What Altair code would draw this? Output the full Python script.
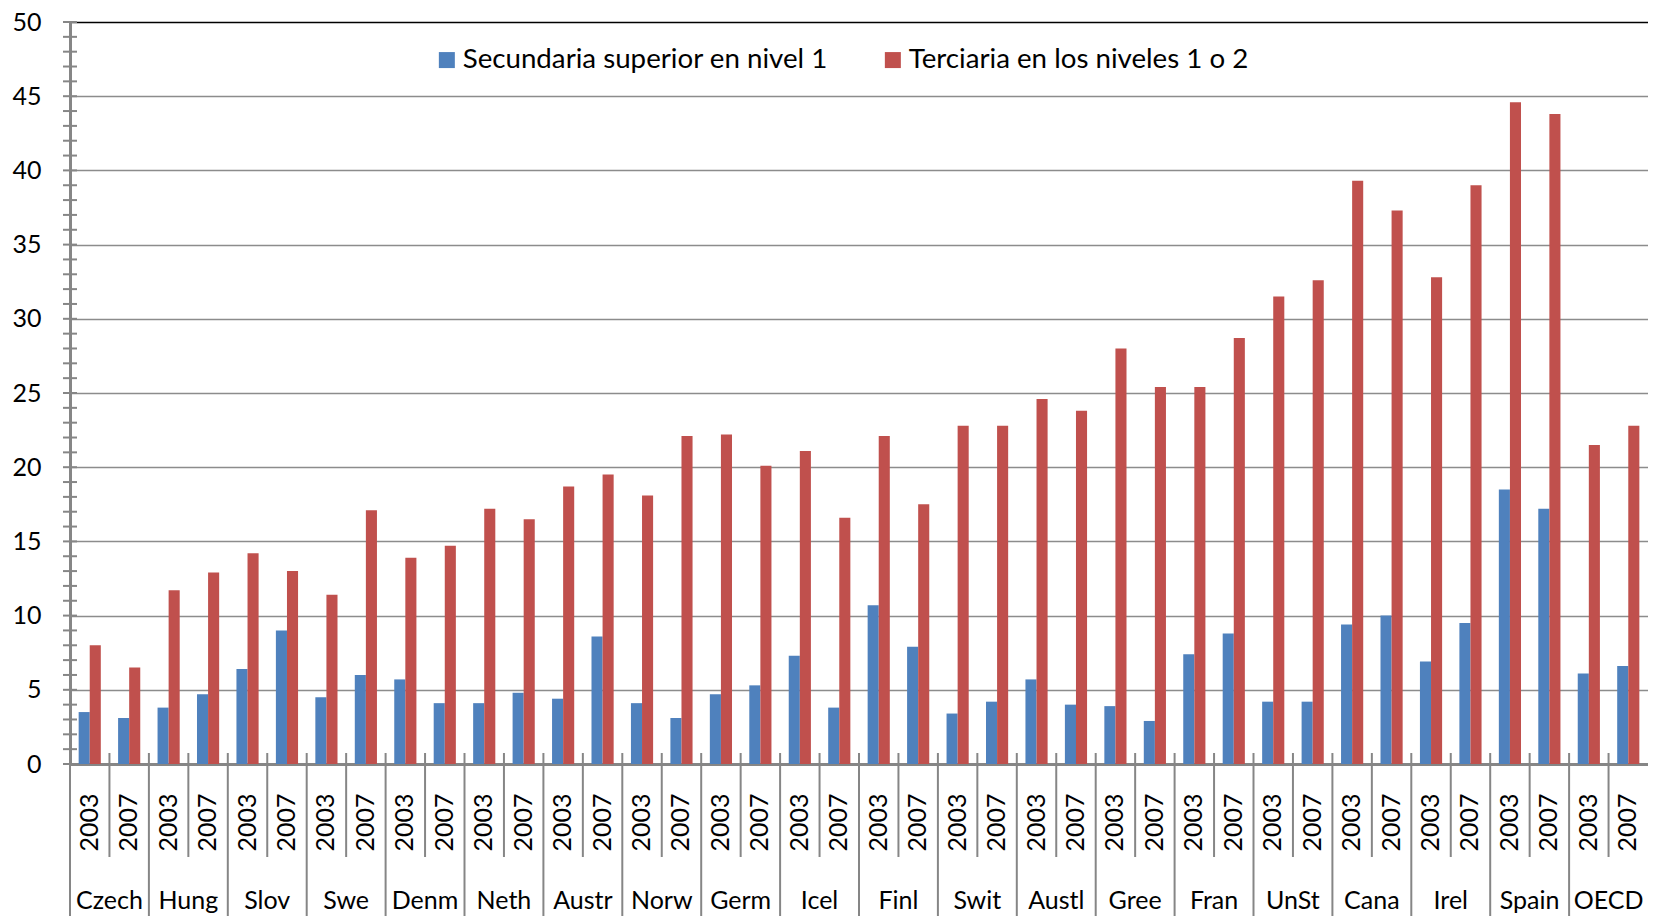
import altair as alt
import pandas as pd

countries = ["Czech", "Hung", "Slov", "Swe", "Denm", "Neth", "Austr", "Norw", "Germ", "Icel",
             "Finl", "Swit", "Austl", "Gree", "Fran", "UnSt", "Cana", "Irel", "Spain", "OECD"]
years = ["2003", "2007"]
series = ["Secundaria superior en nivel 1", "Terciaria en los niveles 1 o 2"]

# values per country, 2003 then 2007
secundaria = [3.5, 3.1, 3.8, 4.7, 6.4, 9.0, 4.5, 6.0, 5.7, 4.1,
              4.1, 4.8, 4.4, 8.6, 4.1, 3.1, 4.7, 5.3, 7.3, 3.8,
              10.7, 7.9, 3.4, 4.2, 5.7, 4.0, 3.9, 2.9, 7.4, 8.8,
              4.2, 4.2, 9.4, 10.0, 6.9, 9.5, 18.5, 17.2, 6.1, 6.6]
terciaria = [8.0, 6.5, 11.7, 12.9, 14.2, 13.0, 11.4, 17.1, 13.9, 14.7,
             17.2, 16.5, 18.7, 19.5, 18.1, 22.1, 22.2, 20.1, 21.1, 16.6,
             22.1, 17.5, 22.8, 22.8, 24.6, 23.8, 28.0, 25.4, 25.4, 28.7,
             31.5, 32.6, 39.3, 37.3, 32.8, 39.0, 44.6, 43.8, 21.5, 22.8]

y_ticks = list(range(0, 51, 5))
y_minor = list(range(0, 51, 1))

keys = [f"{c}|{y}" for c in countries for y in years]

rows = []
for k, key in enumerate(keys):
    c, y = key.split("|")
    rows.append(dict(key=key, country=c, year=y, serie=series[0], value=secundaria[k]))
    rows.append(dict(key=key, country=c, year=y, serie=series[1], value=terciaria[k]))
df = pd.DataFrame(rows)

df_keys = pd.DataFrame({"key": keys,
                        "country": [k.split("|")[0] for k in keys],
                        "year": [k.split("|")[1] for k in keys]})
df_2003 = df_keys[df_keys["year"] == "2003"]
df_2007 = df_keys[df_keys["year"] == "2007"]
df_minor = pd.DataFrame({"value": y_minor})

W = 1578
H = 742
FONT = "Lato"
GRAY = "#868686"

xscale = alt.Scale(type="band", domain=keys, paddingInner=0, paddingOuter=0)
yscale = alt.Scale(domain=[0, 50], nice=False)

xaxis = alt.Axis(title=None, labelExpr="split(datum.value, '|')[1]",
                 labelAngle=270, labelFontSize=25, labelFont=FONT,
                 labelColor="black", labelPadding=29, ticks=False, tickSize=0,
                 domainColor=GRAY, domainWidth=3, grid=False)
yaxis = alt.Axis(title=None, values=y_ticks, labelFontSize=25, labelFont=FONT,
                 labelColor="black", labelPadding=29, ticks=False, tickSize=0,
                 domainColor=GRAY, domainWidth=3,
                 gridColor={"condition": {"test": "datum.value === 50", "value": "#000000"},
                            "value": "#8c8c8c"},
                 gridWidth=1.6)

bars = alt.Chart(df).mark_bar().encode(
    x=alt.X("key:N", sort=keys, scale=xscale, axis=xaxis),
    xOffset=alt.XOffset("serie:N", sort=series,
                        scale=alt.Scale(domain=series, paddingInner=0, paddingOuter=0.78)),
    y=alt.Y("value:Q", scale=yscale, axis=yaxis),
    color=alt.Color("serie:N", sort=series,
                    scale=alt.Scale(domain=series, range=["#4F81BD", "#C0504D"]),
                    legend=alt.Legend(orient="none", legendX=363, legendY=24,
                                      direction="horizontal", title=None,
                                      symbolType="square", symbolSize=256,
                                      symbolStrokeWidth=0, labelFontSize=27.7,
                                      labelFont=FONT, labelColor="black", labelLimit=0,
                                      labelOffset=2, columnPadding=51, padding=0)),
)

minor = alt.Chart(df_minor).mark_rule(color=GRAY, strokeWidth=2).encode(
    y=alt.Y("value:Q", scale=yscale, axis=yaxis),
    x=alt.value(-7), x2=alt.value(7),
)

year_sep = alt.Chart(df_2007).mark_rule(color=GRAY, strokeWidth=2).encode(
    x=alt.X("key:N", sort=keys, scale=xscale, bandPosition=0, axis=xaxis),
    y=alt.value(H - 11), y2=alt.value(H + 93),
)

country_sep = alt.Chart(df_2003).mark_rule(color=GRAY, strokeWidth=2).encode(
    x=alt.X("key:N", sort=keys, scale=xscale, bandPosition=0, axis=xaxis),
    y=alt.value(H - 11), y2=alt.value(H + 170),
)

country_lab = alt.Chart(df_2003).mark_text(
    font=FONT, fontSize=25, color="black", baseline="alphabetic", align="center"
).encode(
    x=alt.X("key:N", sort=keys, scale=xscale, bandPosition=1, axis=xaxis),
    y=alt.value(H + 145),
    text="country:N",
)

chart = alt.layer(bars, minor, year_sep, country_sep, country_lab).properties(
    width=W, height=H,
    autosize=alt.AutoSizeParams(type="none"),
    padding={"left": 62, "top": 14, "right": 0, "bottom": 152},
    background="white",
).configure_view(stroke=None)

chart.save("out.html", embed_options={"renderer": "svg", "actions": False})
